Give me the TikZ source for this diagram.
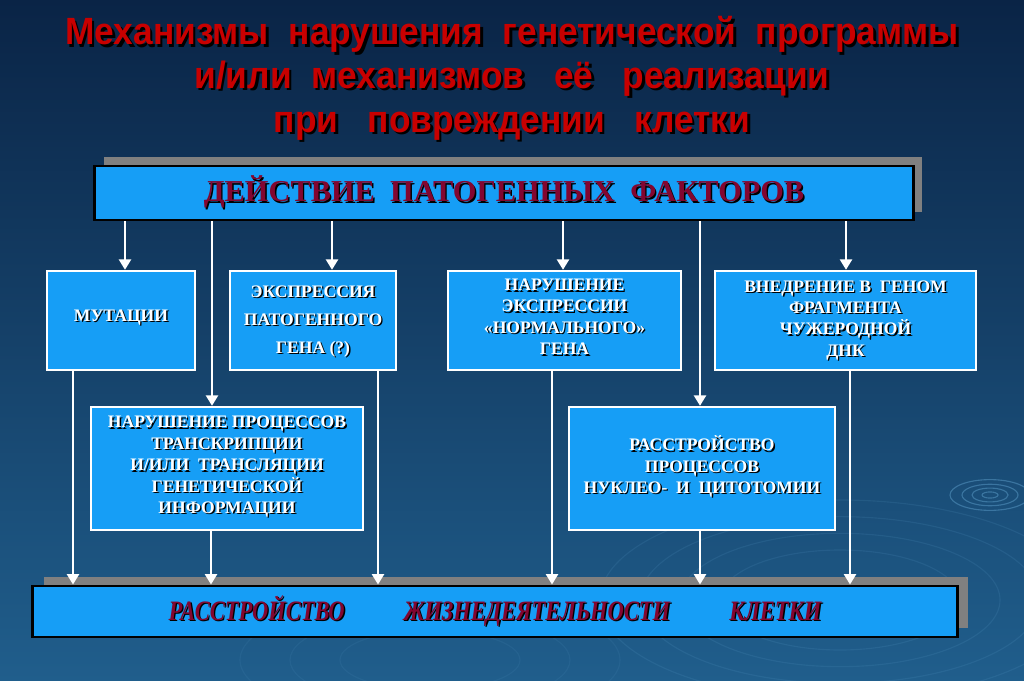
\documentclass[tikz,border=0pt]{standalone}
\usepackage{fontspec}
\setmainfont{Liberation Serif}
\newfontfamily\titlefont[FakeStretch=0.93]{Liberation Sans}
\newfontfamily\barfont[FakeStretch=0.8]{Liberation Serif}
\usetikzlibrary{arrows.meta}

\definecolor{bgtop}{RGB}{10,36,70}
\definecolor{bgmid}{RGB}{16,52,88}
\definecolor{bgbot}{RGB}{32,94,140}
\definecolor{boxblue}{RGB}{22,158,246}
\definecolor{titlered}{RGB}{200,0,0}
\definecolor{hdrred}{RGB}{130,6,48}
\definecolor{ripple}{RGB}{120,190,235}

\newlength\shoff
\setlength\shoff{1pt}
\newcommand\shd[2][black]{\leavevmode\rlap{\kern\shoff\raisebox{-\shoff}{\color{#1}#2}}#2}
\newcommand\lines[2][black]{\shd[#1]{\begin{tabular}{@{}c@{}}#2\end{tabular}}}

\begin{document}
\begin{tikzpicture}[x=0.025cm,y=-0.025cm,
    arr/.style={draw=white,line width=2pt,-{Triangle[width=8.5pt,length=7.5pt]}},
    box/.style={draw=white,line width=1.6pt,fill=boxblue,text=white,inner sep=2pt,
      font=\bfseries\fontsize{12.5}{15.2}\selectfont},
    bar/.style={draw=black,line width=2pt,fill=boxblue,text=hdrred},
    barshadow/.style={fill=gray}]
  % background
  \shade[top color=bgtop,middle color=bgmid,bottom color=bgbot] (0,0) rectangle (1024,681);
  \useasboundingbox (0,0) rectangle (1024,681);
  \begin{scope}[draw=ripple,line width=0.8pt]
    \clip (0,0) rectangle (1024,681);
    \foreach \r in {8,18,28,40}
      \draw[opacity=0.35] (990,495) ellipse ({\r} and {\r/2.6});
    \foreach \r in {120,160,200,240}
      \draw[opacity=0.10] (840,600) ellipse ({\r} and {\r/2.4});
    \foreach \r in {90,140,190}
      \draw[opacity=0.07] (430,660) ellipse ({\r} and {\r/3});
  \end{scope}

  % title
  \node[text=titlered,font=\titlefont\bfseries\fontsize{27}{31}\selectfont\setlength\shoff{1.8pt}]
    (title) at (512,81) {\lines{Механизмы\ \ нарушения\ \ генетической\ \ программы\\
      и/или\ \ механизмов\ \ \ её\ \ \ реализации\\ при\ \ \ повреждении\ \ \ клетки}};

  % top bar
  \fill[barshadow] (104,157) rectangle (922,212);
  \node[bar,minimum width=20.45cm,minimum height=1.35cm,
    font=\bfseries\fontsize{21.6}{24}\selectfont] (hdr) at (504,193)
    {\shd{ДЕЙСТВИЕ\ \ ПАТОГЕННЫХ\ \ ФАКТОРОВ}};

  % first row
  \node[box,minimum width=3.7cm,minimum height=2.475cm] (mut) at (121,320.5)
    {\lines{МУТАЦИИ\\[4pt]}};
  \node[box,minimum width=4.15cm,minimum height=2.475cm,
    font=\bfseries\fontsize{12.5}{19.8}\selectfont] (expr) at (313,320.5)
    {\lines{ЭКСПРЕССИЯ\\ ПАТОГЕННОГО\\ ГЕНА (?)}};
  \node[box,minimum width=5.825cm,minimum height=2.475cm] (norm) at (564.5,320.5)
    {\lines{НАРУШЕНИЕ\\ ЭКСПРЕССИИ\\ «НОРМАЛЬНОГО»\\ ГЕНА\\[2pt]}};
  \node[box,minimum width=6.525cm,minimum height=2.475cm] (vned) at (845.5,320.5)
    {\lines{ВНЕДРЕНИЕ В\ \ ГЕНОМ\\ ФРАГМЕНТА\\ ЧУЖЕРОДНОЙ\\ ДНК}};

  % second row
  \node[box,minimum width=6.8cm,minimum height=3.075cm] (trans) at (227,468.5)
    {\lines{НАРУШЕНИЕ ПРОЦЕССОВ\\ ТРАНСКРИПЦИИ\\ И/ИЛИ\ \ ТРАНСЛЯЦИИ\\ ГЕНЕТИЧЕСКОЙ\\ ИНФОРМАЦИИ\\[2pt]}};
  \node[box,minimum width=6.65cm,minimum height=3.075cm] (rasstr) at (702,468.5)
    {\lines{РАССТРОЙСТВО\\ ПРОЦЕССОВ\\ НУКЛЕО-\ \ И\ \ ЦИТОТОМИИ}};

  % bottom bar
  \fill[barshadow] (44,577) rectangle (968,628);
  \node[bar,minimum width=23.1cm,minimum height=1.275cm,
    font=\barfont\bfseries\itshape\fontsize{20}{24}\selectfont] (bot) at (495,611.5)
    {\raisebox{3pt}{\shd{РАССТРОЙСТВО\hspace{42pt}ЖИЗНЕДЕЯТЕЛЬНОСТИ\hspace{42pt}КЛЕТКИ}}};

  % arrows from the top bar
  \draw[arr] (hdr.south -| 125,0) -- (mut.north -| 125,0);
  \draw[arr] (hdr.south -| 332,0) -- (expr.north -| 332,0);
  \draw[arr] (hdr.south -| 563,0) -- (norm.north -| 563,0);
  \draw[arr] (hdr.south -| 846,0) -- (vned.north -| 846,0);
  \draw[arr] (hdr.south -| 212,0) -- (trans.north -| 212,0);
  \draw[arr] (hdr.south -| 700,0) -- (rasstr.north -| 700,0);

  % arrows to the bottom bar
  \draw[arr] (mut.south -| 73,0) -- (bot.north -| 73,0);
  \draw[arr] (trans.south -| 211,0) -- (bot.north -| 211,0);
  \draw[arr] (expr.south -| 378,0) -- (bot.north -| 378,0);
  \draw[arr] (norm.south -| 552,0) -- (bot.north -| 552,0);
  \draw[arr] (rasstr.south -| 700,0) -- (bot.north -| 700,0);
  \draw[arr] (vned.south -| 850,0) -- (bot.north -| 850,0);
\end{tikzpicture}
\end{document}
